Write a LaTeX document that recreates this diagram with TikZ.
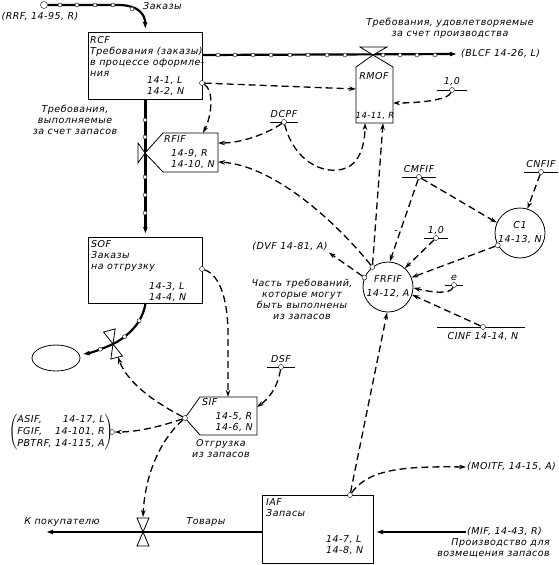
\documentclass[tikz,border=0pt]{standalone}
\usepackage{fontspec}
\setmainfont{DejaVu Sans}[LetterSpace=5]
\usetikzlibrary{arrows.meta,positioning,shapes.geometric}

% valve: x, y, rotation
\newcommand{\valve}[3]{
\begin{scope}[shift={(#1,#2)},rotate=#3]
\draw [thick,fill=white] (0,0) -- (-6,-14) -- (6,-14) -- cycle;
\draw [thick,fill=white] (0,0) -- (-6,14) -- (6,14) -- cycle;
\end{scope}
}
% constant: name, x, y, half width, label
\newcommand{\konst}[5]{
\draw [thick] (#2-#4,#3) -- (#2+#4,#3);
\node [tap] (#1) at (#2,#3) {};
\node [above=0pt of #1] (#1l) {#5};
}

\begin{document}
\begin{tikzpicture}[x=1pt, y=-1pt,
    every node/.style={font=\fontsize{9.5}{11}\selectfont\itshape, inner sep=1pt},
    box/.style={draw, thick, inner sep=0pt, anchor=north west},
    auxv/.style={circle, draw, thick, minimum size=50pt, inner sep=0pt, align=center},
    tap/.style={circle, draw, thin, fill=white, inner sep=0pt, minimum size=5pt},
    knot/.style={circle, draw, thin, fill=white, inner sep=0pt, minimum size=4pt},
    flow/.style={line width=2.2pt, -{Latex[length=10pt, width=4.5pt]}},
    info/.style={line width=1.3pt, dash pattern=on 7pt off 4pt, -{Stealth[length=7pt, width=4.5pt]}}]

\useasboundingbox (0,0) rectangle (559,565);

% levels
\node [box, minimum width=114pt, minimum height=67pt] (RCF) at (88,32) {};
\node [box, minimum width=114pt, minimum height=66pt] (SOF) at (88,237) {};
\node [box, minimum width=111pt, minimum height=68pt] (IAF) at (262,495) {};
\node [anchor=north west, align=left] (RCFt) at (89,35) {RCF\\Требования (заказы)\\в процессе оформле-\\ния};
\node [anchor=north west, align=left] (RCFn) at (146,75) {14-1, L\\14-2, N};
\node [anchor=north west, align=left] (SOFt) at (90,239) {SOF\\Заказы\\на отгрузку};
\node [anchor=north west, align=left] (SOFn) at (148,281) {14-3, L\\14-4, N};
\node [anchor=north west, align=left] (IAFt) at (265,497) {IAF\\Запасы};
\node [anchor=north west, align=left] (IAFn) at (325,534) {14-7, L\\14-8, N};

% flows
\node [tap, minimum size=7pt] (rrf) at (44,5) {};
\node [anchor=west] (zakazy) at (142,6) {Заказы};
\node (rrfl) at (40,17) {(RRF, 14-95, R)};
\draw [flow] (rrf) -- (118,5) .. controls (138,5) and (145,14) .. (RCF.north);
\foreach \x in {60,77,95,113} \node [knot] (a\x) at (\x,5) {};
\node [knot] (a132) at (132,9) {};

\coordinate (rcfo) at (202,55);
\node [anchor=west] (blcf) at (460,54) {(BLCF 14-26, L)};
\draw [flow] (rcfo) -- (blcf.west);
\foreach \x in {218,235,253,271,290,308,327,345,383,400,417,435} \node [knot] (b\x) at (\x,55) {};
\node [align=center] (prod) at (450,28) {Требования, удовлетворяемые\\за счет производства};

\draw [flow] (RCF.south) -- (SOF.north);
\foreach \y in {120,137,177,195,213} \node [knot] (c\y) at (145,\y) {};
\node [align=center] (vyp) at (75,120) {Требования,\\выполняемые\\за счет запасов};

\node [draw, thick, ellipse, minimum width=48pt, minimum height=26pt, inner sep=0pt] (sink) at (56,358) {};
\draw [flow] (SOF.south) .. controls (142,325) and (125,338) .. (113,344)
    node [knot, pos=0.3] (d1) {} node [knot, pos=0.7] (d2) {}
    .. controls (100,350) and (90,353) .. (sink.8) node [knot, pos=0.35] (d3) {};
\valve{113}{344}{15}

\coordinate (iafw) at (262,532);
\coordinate (cust) at (43,532);
\draw [flow] (iafw) -- (cust);
\valve{143}{532}{0}
\node (custl) at (62,522) {К покупателю};
\node (goods) at (206,522) {Товары};

\node [anchor=west] (mif) at (466,532) {(MIF, 14-43, R)};
\node [anchor=north east, align=right] (mifl) at (551,537) {Производство для\\возмещения запасов};
\coordinate (iafe) at (373,532);
\draw [flow] (mif.west) -- (iafe);

% rates
\draw [thick, fill=white] (145,153) -- (163,133) -- (218,133) -- (218,172) -- (163,172) -- cycle;
\draw [thick, fill=white] (145,153) -- (138,143) -- (138,163) -- cycle;
\node [anchor=north west] (RFIFt) at (163,134) {RFIF};
\node [anchor=north east, align=left] (RFIFn) at (216,148) {14-9, R\\14-10, N};
\coordinate (rfif1) at (218,143);
\coordinate (rfif2) at (218,162);
\coordinate (rfif3) at (203,133);

\draw [thick, fill=white] (373,55) -- (393,67) -- (393,123) -- (356,123) -- (356,67) -- cycle;
\draw [thick, fill=white] (373,55) -- (360,47) -- (387,47) -- cycle;
\node (RMOFt) at (374,76) {RMOF};
\node [font=\fontsize{8.5}{10}\selectfont\itshape] (RMOFn) at (375,116) {14-11, R};
\coordinate (rmof1) at (356,89);
\coordinate (rmof2) at (393,103);
\coordinate (rmof3) at (365,123);
\coordinate (rmof4) at (383,123);

\draw [thick] (185,418) -- (200,397) -- (257,397) -- (257,435) -- (200,435) -- cycle;
\node [anchor=north west] (SIFt) at (201,397) {SIF};
\node [anchor=north east, align=left] (SIFn) at (254,411) {14-5, R\\14-6, N};
\node [align=center] (SIFl) at (221,449) {Отгрузка\\из запасов};
\coordinate (sif1) at (228,397);
\coordinate (sif2) at (257,407);
\node [tap] (sifc) at (185,418) {};

% auxiliaries and constants
\node [auxv] (FRFIF) at (388,287) {FRFIF\\[3pt]14-12, A};
\node [auxv] (C1) at (520,233) {C1\\[3pt]14-13, N};
\node [tap] (fr1) at (FRFIF.128) {};
\node [tap] (fr2) at (FRFIF.158) {};
\node [tap] (c1c) at (C1.209) {};

\konst{k1}{452}{90}{15}{1,0}
\konst{dcpf}{284}{122}{14}{DCPF}
\konst{cmfif}{419}{177}{17}{CMFIF}
\konst{cnfif}{541}{172}{17}{CNFIF}
\konst{k2}{436}{238}{12}{1,0}
\konst{ee}{454}{285}{9}{e}
\konst{dsf}{281}{367}{14}{DSF}
\draw [thick] (437,327) -- (525,327);
\node [tap] (cinf) at (483,327) {};
\node [below=2pt of cinf] (cinfl) {CINF 14-14, N};

\node (dvf) at (290,247) {(DVF 14-81, A)};
\node [align=center] (part) at (302,299) {Часть требований,\\которые могут\\быть выполнены\\из запасов};
\node [anchor=west] (moitf) at (466,467) {(MOITF, 14-15, A)};

% information links
\node [tap] (rcfc) at (202,83) {};
\draw [info] (rcfc) -- (rmof1);
\draw [info] (rcfc) .. controls (214,90) and (212,115) .. (rfif3);
\draw [info] (k1) .. controls (448,100) and (420,103) .. (rmof2);
\draw [info] (dcpf) .. controls (265,135) and (240,143) .. (rfif1);
\draw [info] (dcpf) .. controls (295,165) and (330,178) .. (350,166) .. controls (362,158) and (365,140) .. (rmof3);
\draw [info] (fr1) .. controls (330,215) and (270,165) .. (rfif2);
\draw [info] (fr1) -- (rmof4);
\draw [info] (fr2) -- (dvf.south east);
\draw [info] (cmfif) -- (FRFIF.86);
\node (minus) at (396,232) {-};
\draw [info] (cmfif) -- (C1.156);
\draw [info] (cnfif) -- (C1.73);
\draw [info] (c1c) -- (FRFIF.22);
\draw [info] (k2) -- (FRFIF.48);
\draw [info] (ee) .. controls (450,295) and (430,292) .. (FRFIF.-2);
\draw [info] (cinf) -- (FRFIF.-18);

\node [tap] (sofc) at (202,269) {};
\draw [info] (sofc) .. controls (220,275) and (228,300) .. (228,335) -- (sif1);
\draw [info] (dsf) .. controls (277,390) and (267,400) .. (sif2);
\coordinate (v2) at (118,357);
\draw [info] (sifc) .. controls (160,405) and (128,385) .. (v2);
\node [tap] (asif) at (112,432) {};
\draw [info] (sifc) .. controls (165,425) and (140,432) .. (asif);
\node (asifl) at (61,432) {$\left(\mbox{\begin{tabular}{@{}l@{\ }r@{}}ASIF, & 14-17, L\\[1pt] FGIF, & 14-101, R\\[1pt] PBTRF, & 14-115, A\end{tabular}}\right)$};
\coordinate (gv) at (143,517);
\draw [info] (sifc) .. controls (160,440) and (145,475) .. (gv);

\node [tap] (iafc) at (350,495) {};
\draw [info] (iafc) .. controls (368,470) and (400,466) .. (moitf.west);
\draw [info] (iafc) -- (FRFIF.268);

\end{tikzpicture}
\end{document}
